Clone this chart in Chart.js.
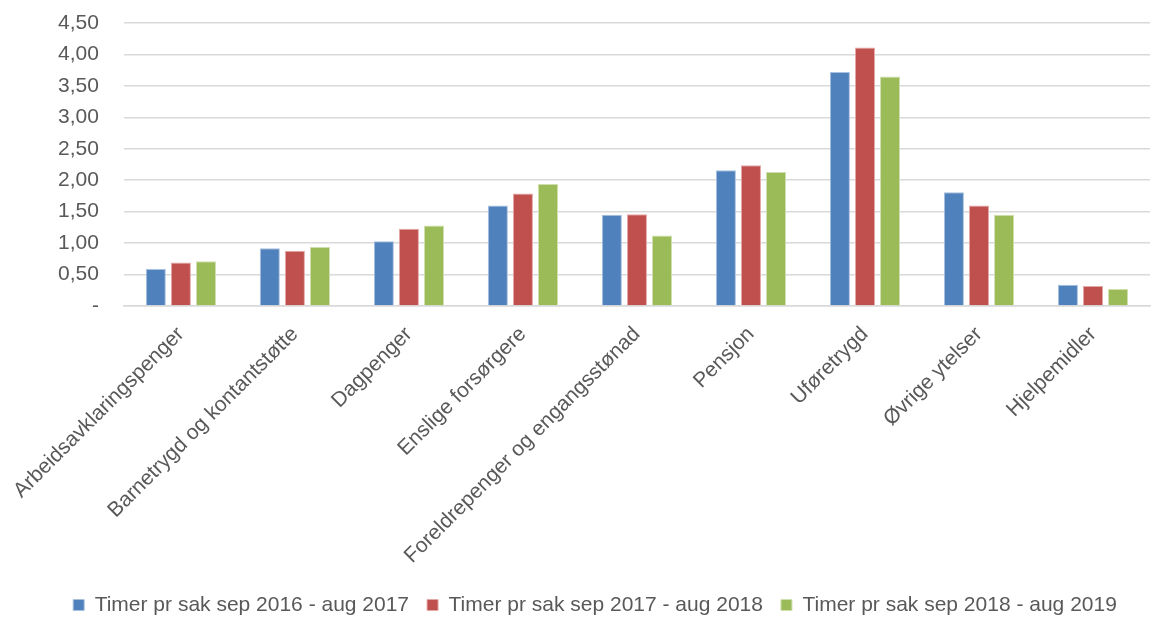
<!DOCTYPE html>
<html>
<head>
<meta charset="utf-8">
<script src="https://cdn.jsdelivr.net/npm/chart.js@4/dist/chart.umd.min.js"></script>
<style>
  html, body { margin: 0; padding: 0; background: #fff; }
  #wrap { width: 1151px; height: 617px; position: relative; }
</style>
</head>
<body>
<div id="wrap"><canvas id="chart"></canvas></div>
<script>
const categories = [
	'Arbeidsavklaringspenger',
	'Barnetrygd og kontantstøtte',
	'Dagpenger',
	'Enslige forsørgere',
	'Foreldrepenger og engangsstønad',
	'Pensjon',
	'Uføretrygd',
	'Øvrige ytelser',
	'Hjelpemidler'
];
const series_labels = [
	'Timer pr sak sep 2016 - aug 2017',
	'Timer pr sak sep 2017 - aug 2018',
	'Timer pr sak sep 2018 - aug 2019'
];
const timer_2016_2017 = [0.59, 0.92, 1.03, 1.60, 1.45, 2.16, 3.72, 1.81, 0.34];
const timer_2017_2018 = [0.69, 0.88, 1.23, 1.79, 1.46, 2.24, 4.11, 1.60, 0.32];
const timer_2018_2019 = [0.71, 0.94, 1.28, 1.94, 1.12, 2.13, 3.65, 1.45, 0.27];

const text_color = '#595959';
const grid_color = '#d9d9d9';
const font = { family: "'Liberation Sans', Arial, sans-serif", size: 21 };

const bar_settings = {
	borderWidth: 1,
	categoryPercentage: 0.66,
	barPercentage: 0.8,
}

const ctx = document.getElementById('chart').getContext('2d');

const chart = new Chart(ctx, {
	type: 'bar',
	data: {
		labels: categories,
		datasets: [{
			label: series_labels[0],
			data: timer_2016_2017,
			backgroundColor: '#4f81bd',
			borderColor: '#a9c0df',
			...bar_settings
		}, {
			label: series_labels[1],
			data: timer_2017_2018,
			backgroundColor: '#c0504d',
			borderColor: '#e3a9a7',
			...bar_settings
		}, {
			label: series_labels[2],
			data: timer_2018_2019,
			backgroundColor: '#9bbb59',
			borderColor: '#cfe0ae',
			...bar_settings
		}]
	},
	options: {
		responsive: true,
		maintainAspectRatio: false,
		animation: false,
		layout: {
			padding: { left: 40, right: 1, top: 23, bottom: -8.5 }
		},
		scales: {
			x: {
				grid: { display: false, drawTicks: false },
				border: { display: true, color: grid_color, width: 1.5 },
				ticks: {
					color: text_color,
					font: font,
					minRotation: 45,
					maxRotation: 45,
					autoSkip: false,
					padding: 16
				},
				// tighten the room kept for the rotated labels
				afterFit: (scale) => {
					scale.height -= 8;
					scale.paddingLeft -= 13;
				}
			},
			y: {
				min: 0,
				max: 4.5,
				grid: { color: grid_color, lineWidth: 1.5, drawTicks: false },
				border: { display: false },
				ticks: {
					stepSize: 0.5,
					color: text_color,
					font: font,
					padding: 25,
					callback: (val) => val === 0 ? '-' : val.toFixed(2).replace('.', ',')
				},
				afterFit: (scale) => {
					scale.paddingTop = 12;
					scale.width -= 7;
				}
			}
		},
		plugins: {
			legend: {
				position: 'bottom',
				labels: {
					color: text_color,
					font: font,
					boxWidth: 11,
					boxHeight: 11,
					padding: 18
				}
			},
			tooltip: { enabled: false },
			title: { display: false }
		}
	}
});
</script>
</body>
</html>
